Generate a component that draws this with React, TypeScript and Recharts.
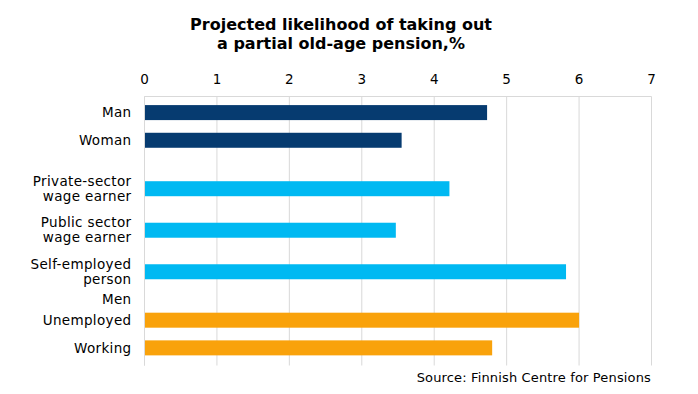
import React from 'react';
import { BarChart, Bar, XAxis, YAxis, CartesianGrid } from 'recharts';

// ---- data ----
const categories = [
  'Man',
  'Woman',
  'Private-sector\nwage earner',
  'Public sector\nwage earner',
  'Self-employed\nperson',
  'Men',
  'Unemployed',
  'Working',
];
const values: (number | null)[] = [4.73, 3.55, 4.21, 3.47, 5.82, null, 6.0, 4.8];
const groups = ['gender', 'gender', 'sector', 'sector', 'sector', 'men', 'men', 'men'];
const xTicks = [0, 1, 2, 3, 4, 5, 6, 7];
const groupColors: Record<string, string> = {
  gender: '#063b70',
  sector: '#00b9f2',
  men: '#f9a20b',
};

// ---- layout: row slot of each category on a fine band grid ----
const ROW_SLOTS = [0, 4, 11, 17, 23, 27, 30, 34];
const SLOT_COUNT = 35;

const table = Array.from({ length: SLOT_COUNT }, (_, i) => ({
  key: `gap${i}`,
  value: null as number | null,
  color: '#000',
}));
categories.forEach((c, i) => {
  table[ROW_SLOTS[i]] = { key: c, value: values[i], color: groupColors[groups[i]] };
});

const FONT = 'DejaVu Sans, Verdana, sans-serif';
const GRID = '#d9d9d9';

const FixedBar = (props: any) => {
  const { x, y, width, height, payload } = props;
  if (payload == null || payload.value == null || !(width > 0)) return null;
  const cy = y + height / 2;
  return <rect x={x} y={cy - 7.5} width={width} height={15} fill={payload.color} />;
};

const CatTick = (props: any) => {
  const { x, y, payload } = props;
  const v = String(payload?.value ?? '');
  if (v.startsWith('gap')) return null;
  const lines = v.split('\n');
  const lh = 15;
  const start = -((lines.length - 1) * lh) / 2;
  return (
    <text
      x={x}
      y={y}
      textAnchor="end"
      fontFamily={FONT}
      fontSize={13.5}
      letterSpacing={0.35}
      fill="#000"
    >
      {lines.map((l, i) => (
        <tspan key={i} x={x} y={y + start + i * lh} dy="0.36em">
          {l}
        </tspan>
      ))}
    </text>
  );
};

export default function App() {
  return (
    <div style={{ position: 'absolute', left: 0, top: 0, width: 698, height: 394, background: '#fff' }}>
      <div
        style={{
          position: 'absolute',
          left: 0,
          top: 15,
          width: 682,
          textAlign: 'center',
          fontFamily: FONT,
          fontWeight: 'bold',
          fontSize: 16,
          lineHeight: '19px',
          color: '#000',
        }}
      >
        Projected likelihood of taking out
        <br />
        a partial old-age pension,%
      </div>
      <BarChart
        width={698}
        height={394}
        data={table}
        layout="vertical"
        margin={{ top: 66.5, right: 46.5, bottom: 28.5, left: 0.5 }}
      >
        <CartesianGrid horizontal={false} stroke={GRID} />
        <XAxis
          type="number"
          orientation="top"
          domain={[0, 7]}
          ticks={xTicks}
          interval={0}
          height={30}
          axisLine={{ stroke: GRID }}
          tickLine={false}
          tickSize={0}
          tickMargin={13}
          tick={{ fontFamily: FONT, fontSize: 13.5, fill: '#000' }}
        />
        <XAxis
          xAxisId="bottom"
          type="number"
          orientation="bottom"
          domain={[0, 7]}
          height={0}
          tick={false}
          tickLine={false}
          axisLine={{ stroke: GRID }}
        />
        <YAxis
          type="category"
          dataKey="key"
          width={144}
          interval={0}
          axisLine={{ stroke: GRID }}
          tickLine={false}
          tickSize={0}
          tickMargin={13}
          padding={{ top: 12.4, bottom: 14.4 }}
          tick={<CatTick />}
        />
        <Bar dataKey="value" isAnimationActive={false} shape={<FixedBar />} />
      </BarChart>
      <div
        style={{
          position: 'absolute',
          right: 47,
          top: 370,
          fontFamily: FONT,
          fontSize: 13,
          lineHeight: '15px',
          letterSpacing: 0.15,
          color: '#000',
          whiteSpace: 'nowrap',
        }}
      >
        Source: Finnish Centre for Pensions
      </div>
    </div>
  );
}
